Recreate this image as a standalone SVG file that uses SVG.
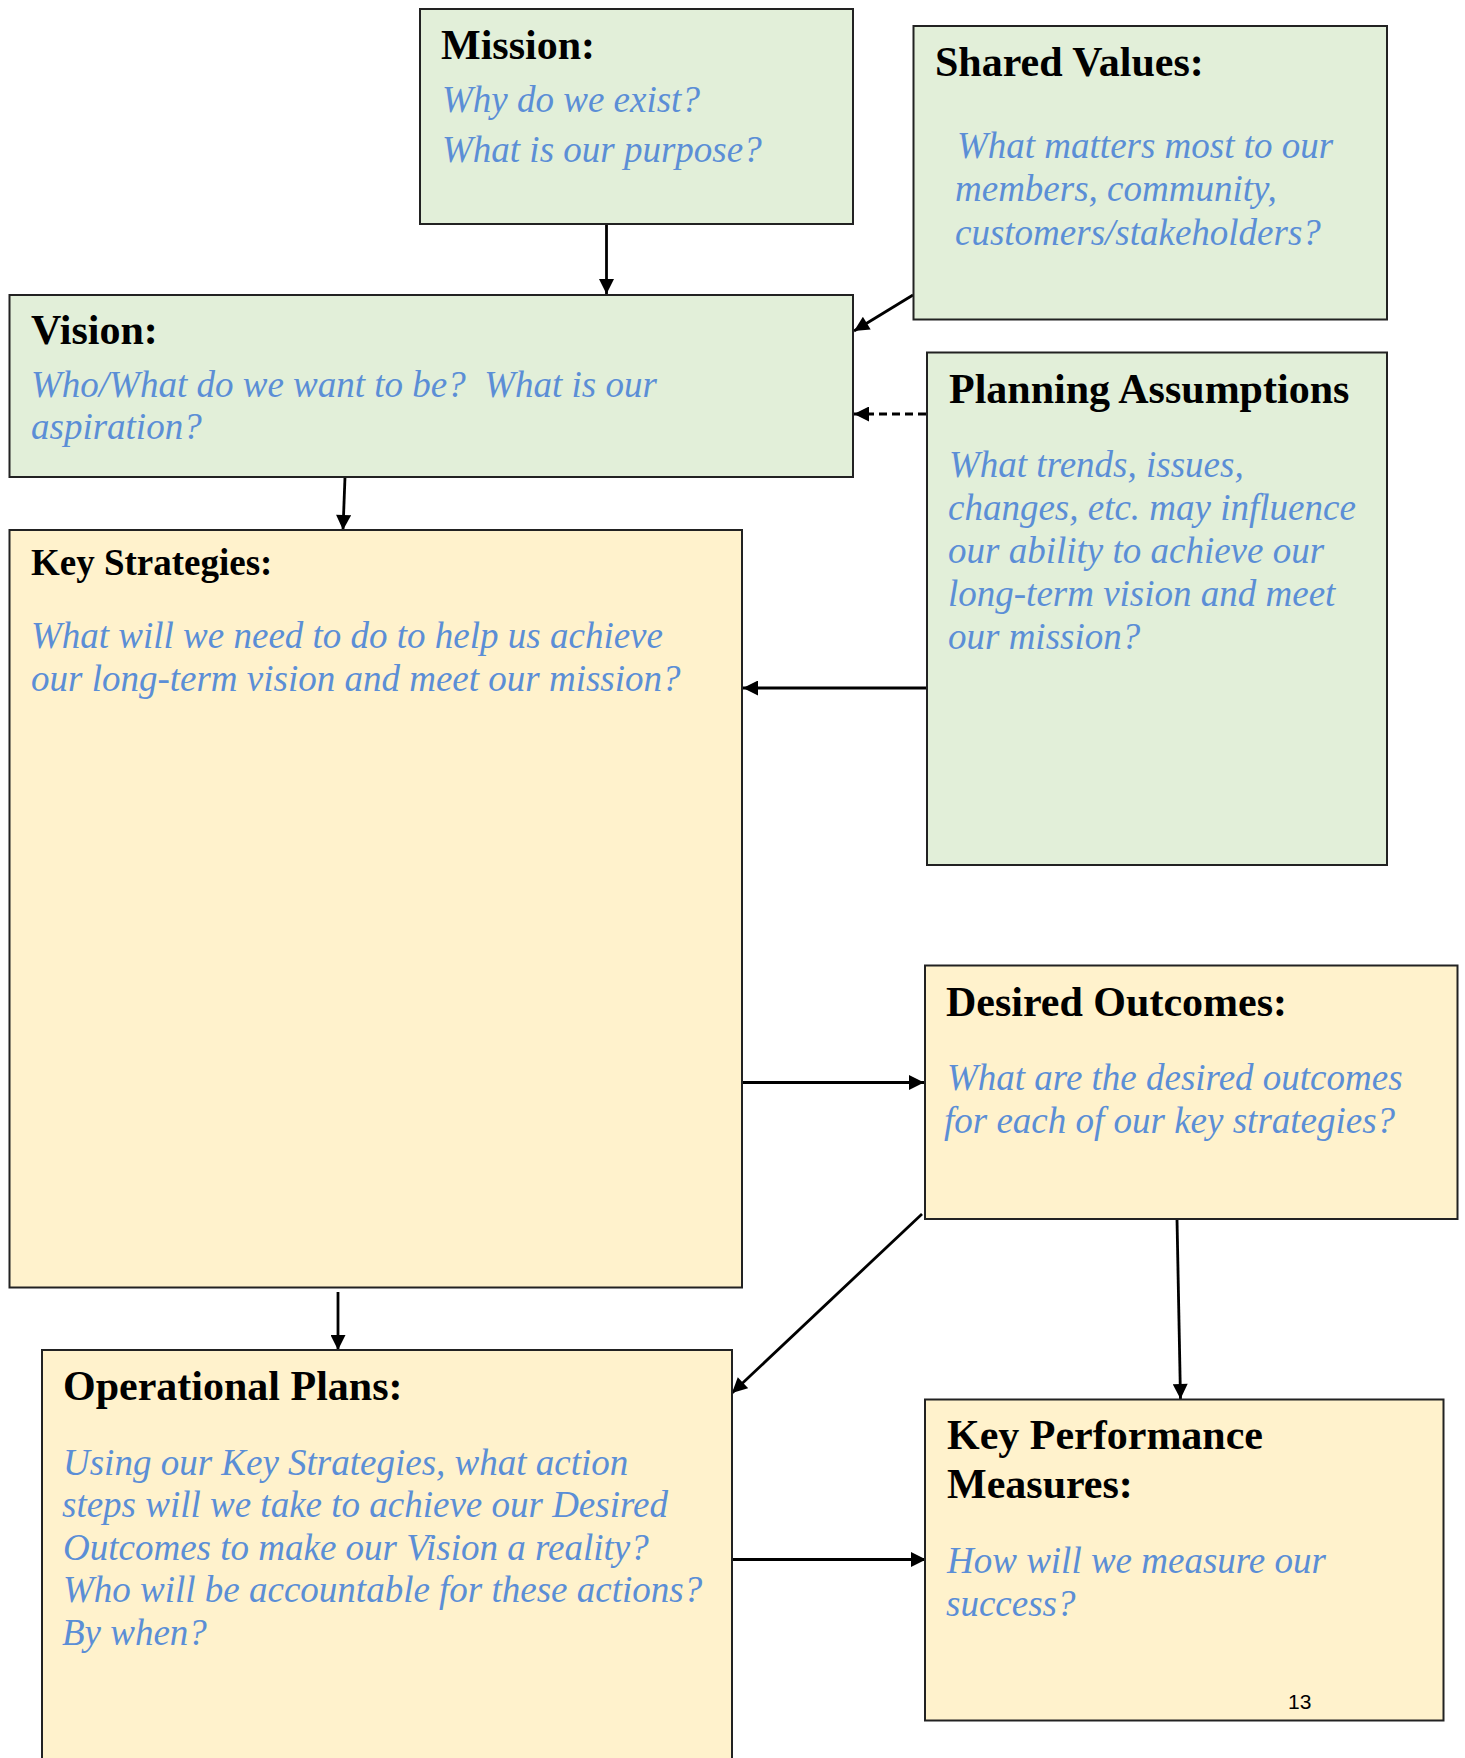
<svg xmlns="http://www.w3.org/2000/svg" width="1465" height="1758" viewBox="0 0 1465 1758">
<style>
.g{fill:#E2EFD9;stroke:#222;stroke-width:2}
.y{fill:#FFF2CC;stroke:#222;stroke-width:2}
.t{font-family:"Liberation Serif","Times New Roman",serif;font-weight:bold;font-size:42px;fill:#000}
.ts{font-size:37px}
.b{font-family:"Liberation Serif","Times New Roman",serif;font-style:italic;font-size:37px;fill:#5B8ED6;white-space:pre}
.c{stroke:#000;stroke-width:2.8;fill:none}
.d{stroke-dasharray:8 5}
.pg{font-family:"Liberation Sans",Arial,sans-serif;font-size:21px;fill:#000}
</style>
<defs>
<marker id="ah" viewBox="0 0 10 10" refX="10" refY="5" markerWidth="16" markerHeight="15" markerUnits="userSpaceOnUse" orient="auto">
<path d="M0,0 L10,5 L0,10 z" fill="#000"/>
</marker>
</defs>
<rect width="1465" height="1758" fill="#fff"/>
<g id="connectors">
<line class="c" x1="606.5" y1="224" x2="606.5" y2="294" marker-end="url(#ah)"/>
<line class="c" x1="913" y1="295" x2="854" y2="331" marker-end="url(#ah)"/>
<line class="c d" x1="926" y1="414" x2="854" y2="414" marker-end="url(#ah)"/>
<line class="c" x1="345" y1="477" x2="343" y2="530" marker-end="url(#ah)"/>
<line class="c" x1="926" y1="688" x2="743" y2="688" marker-end="url(#ah)"/>
<line class="c" x1="742" y1="1082.5" x2="924" y2="1082.5" marker-end="url(#ah)"/>
<line class="c" x1="922" y1="1214" x2="732" y2="1393" marker-end="url(#ah)"/>
<line class="c" x1="1177" y1="1219" x2="1180.5" y2="1399" marker-end="url(#ah)"/>
<line class="c" x1="338" y1="1292" x2="338" y2="1350" marker-end="url(#ah)"/>
<line class="c" x1="733" y1="1559.5" x2="926" y2="1559.5" marker-end="url(#ah)"/>
</g>
<g id="mission">
<rect class="g" x="420" y="9" width="433" height="215"/>
<text class="t" x="441" y="59">Mission:</text>
<text class="b" x="442" y="112">Why do we exist?</text>
<text class="b" x="442" y="162">What is our purpose?</text>
</g>
<g id="shared-values">
<rect class="g" x="913.5" y="26" width="473.5" height="293.5"/>
<text class="t" x="935" y="76">Shared Values:</text>
<text class="b" x="957" y="158">What matters most to our</text>
<text class="b" x="955" y="201">members, community,</text>
<text class="b" x="955" y="245">customers/stakeholders?</text>
</g>
<g id="vision">
<rect class="g" x="9.5" y="295" width="843.5" height="182"/>
<text class="t" x="31" y="344">Vision:</text>
<text class="b" x="31" y="397">Who/What do we want to be?  What is our</text>
<text class="b" x="31" y="439">aspiration?</text>
</g>
<g id="planning-assumptions">
<rect class="g" x="927" y="352.5" width="460" height="512.5"/>
<text class="t" x="949" y="403">Planning Assumptions</text>
<text class="b" x="949" y="477">What trends, issues,</text>
<text class="b" x="948" y="520">changes, etc. may influence</text>
<text class="b" x="948" y="563">our ability to achieve our</text>
<text class="b" x="948" y="606">long-term vision and meet</text>
<text class="b" x="948" y="649">our mission?</text>
</g>
<g id="key-strategies">
<rect class="y" x="9.5" y="530" width="732.5" height="757.5"/>
<text class="t ts" x="31" y="575">Key Strategies:</text>
<text class="b" x="31" y="648">What will we need to do to help us achieve</text>
<text class="b" x="31" y="691">our long-term vision and meet our mission?</text>
</g>
<g id="desired-outcomes">
<rect class="y" x="925" y="965.5" width="532.5" height="253.5"/>
<text class="t" x="946" y="1016">Desired Outcomes:</text>
<text class="b" x="947" y="1090">What are the desired outcomes</text>
<text class="b" x="944" y="1133">for each of our key strategies?</text>
</g>
<g id="operational-plans">
<rect class="y" x="42" y="1350" width="690" height="430"/>
<text class="t" x="63" y="1400">Operational Plans:</text>
<text class="b" x="63" y="1475">Using our Key Strategies, what action</text>
<text class="b" x="62" y="1517">steps will we take to achieve our Desired</text>
<text class="b" x="63" y="1560">Outcomes to make our Vision a reality?</text>
<text class="b" x="63" y="1602">Who will be accountable for these actions?</text>
<text class="b" x="62" y="1645">By when?</text>
</g>
<g id="key-performance-measures">
<rect class="y" x="925" y="1399.5" width="518.5" height="321"/>
<text class="t" x="947" y="1449">Key Performance</text>
<text class="t" x="947" y="1498">Measures:</text>
<text class="b" x="947" y="1573">How will we measure our</text>
<text class="b" x="946" y="1616">success?</text>
<text class="pg" x="1288" y="1709">13</text>
</g>
</svg>
